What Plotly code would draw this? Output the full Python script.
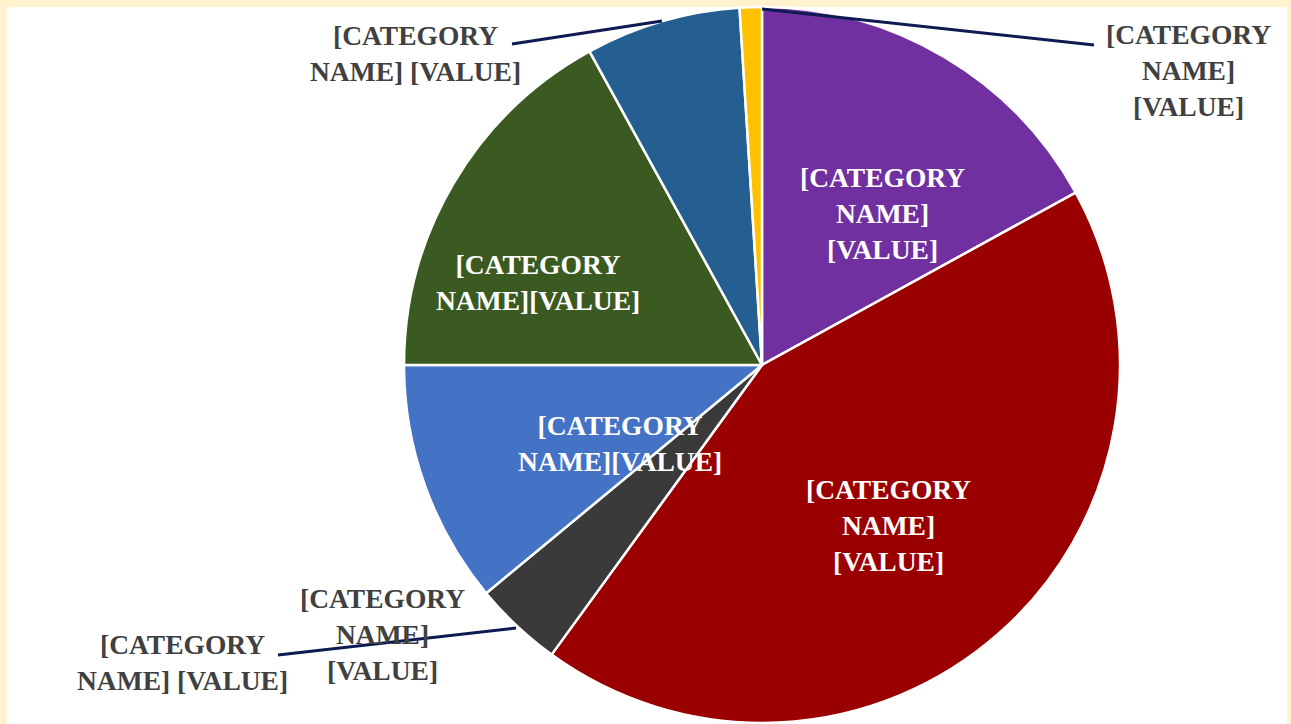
import plotly.graph_objects as go

# Data
categories = ["Purple", "Red", "Gray", "Blue", "Green", "Dark blue", "Yellow"]
values = [17, 43, 4, 11, 17, 7, 1]
colors = ["#7030A0", "#9A0000", "#3A3A3A", "#4472C4", "#3B5A21", "#255E91", "#FFC000"]
label_text = "[CATEGORY NAME] [VALUE]"

W, H = 1291, 724

fig = go.Figure(go.Pie(
    labels=categories,
    values=values,
    marker=dict(colors=colors, line=dict(color="white", width=2.5)),
    sort=False,
    direction="clockwise",
    rotation=0,
    textinfo="none",
    hoverinfo="label+value",
    showlegend=False,
    domain=dict(x=[404 / W, 1120 / W], y=[1 - 723 / H, 1 - 7 / H]),
))

def px(x, y):
    return x / W, 1 - y / H

FONT = "Liberation Serif, Times New Roman, serif"
annots = [
    # (text, x, y, color)
    ("[CATEGORY<br>NAME]<br>[VALUE]", 882, 213, "white"),
    ("[CATEGORY<br>NAME]<br>[VALUE]", 888, 525, "white"),
    ("[CATEGORY<br>NAME][VALUE]", 538, 282, "white"),
    ("[CATEGORY<br>NAME][VALUE]", 620, 443, "white"),
    ("[CATEGORY<br>NAME] [VALUE]", 415, 53, "#404040"),
    ("[CATEGORY<br>NAME]<br>[VALUE]", 1188, 70, "#404040"),
    ("[CATEGORY<br>NAME]<br>[VALUE]", 382, 634, "#404040"),
    ("[CATEGORY<br>NAME] [VALUE]", 182, 662, "#404040"),
]
annotations = []
for t, x, y, c in annots:
    ax, ay = px(x, y)
    annotations.append(dict(
        text="<b>" + t + "</b>", x=ax, y=ay, xref="paper", yref="paper",
        xanchor="center", yanchor="middle", showarrow=False, align="center",
        font=dict(family=FONT, size=27.5, color=c),
    ))

shapes = [
    # white inner panel on cream border
    dict(type="rect", xref="paper", yref="paper", layer="below",
         x0=7 / W, x1=1287 / W, y0=0, y1=1 - 7 / H,
         fillcolor="white", line=dict(width=0)),
]
leaders = [((512, 44), (662, 21)), ((1094, 45), (762, 9)), ((278, 655), (516, 628))]
for (x0, y0), (x1, y1) in leaders:
    a0, b0 = px(x0, y0)
    a1, b1 = px(x1, y1)
    shapes.append(dict(type="line", xref="paper", yref="paper", x0=a0, y0=b0, x1=a1, y1=b1,
                       line=dict(color="#0E1A52", width=3)))

fig.update_layout(
    width=W, height=H,
    margin=dict(l=0, r=0, t=0, b=0),
    paper_bgcolor="#FFF2CC",
    annotations=annotations,
    shapes=shapes,
)

fig.write_html("out.html", config={"displayModeBar": False},
               post_script="document.body.style.margin='0';")
